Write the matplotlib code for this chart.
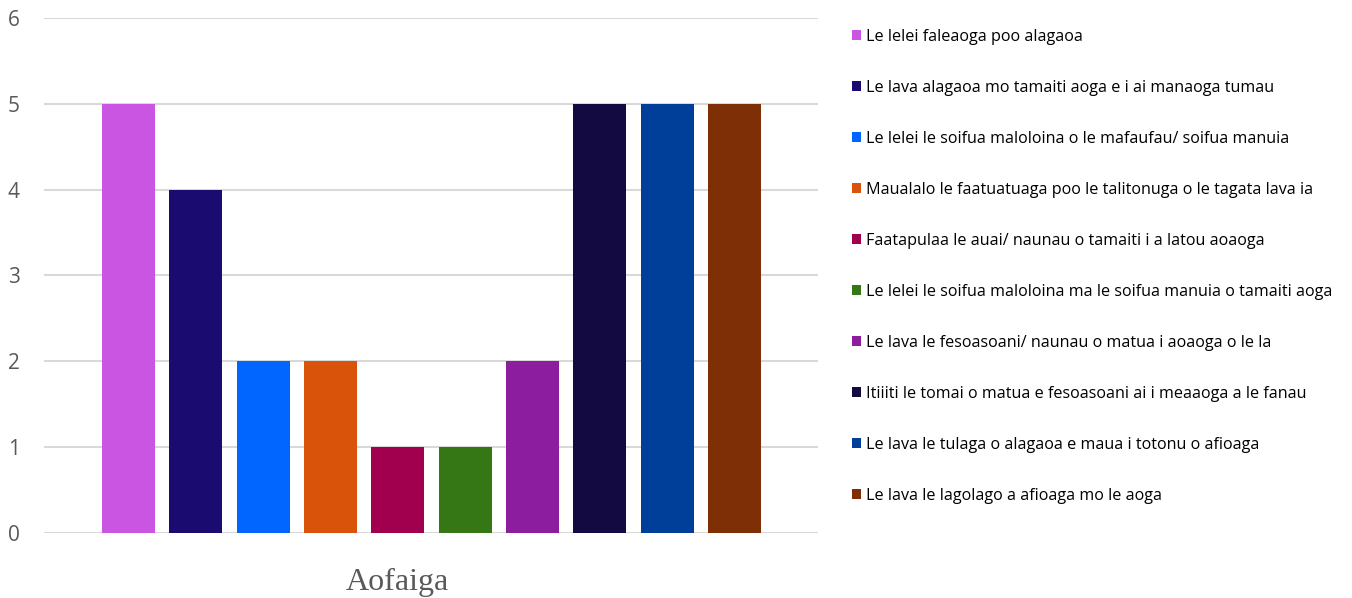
import matplotlib
matplotlib.use("Agg")
import matplotlib.pyplot as plt

# ================= Data =================
labels = [
    "Le lelei faleaoga poo alagaoa",
    "Le lava alagaoa mo tamaiti aoga e i ai manaoga tumau",
    "Le lelei le soifua maloloina o le mafaufau/ soifua manuia",
    "Maualalo le faatuatuaga poo le talitonuga o le tagata lava ia",
    "Faatapulaa le auai/ naunau o tamaiti i a latou aoaoga",
    "Le lelei le soifua maloloina ma le soifua manuia o tamaiti aoga",
    "Le lava le fesoasoani/ naunau o matua i aoaoga o le la",
    "Itiiiti le tomai o matua e fesoasoani ai i meaaoga a le fanau",
    "Le lava le tulaga o alagaoa e maua i totonu o afioaga",
    "Le lava le lagolago a afioaga mo le aoga",
]
values = [5, 4, 2, 2, 1, 1, 2, 5, 5, 5]
colors = ["#CB55E3", "#1A0B70", "#0066FF", "#D9540A", "#A0004D",
          "#357714", "#8B1D9E", "#120A40", "#003F99", "#7F2F06"]
yticks = [0, 1, 2, 3, 4, 5, 6]
category = "Aofaiga"
# ========================================

fig = plt.figure(figsize=(13.52, 5.98), dpi=100)
ax = fig.add_axes([0.0325, 0.109, 0.5725, 0.861])

for i, (v, c, lab) in enumerate(zip(values, colors, labels)):
    ax.bar(i, v, width=0.79, color=c, label=lab, zorder=3)

ax.set_xlim(-1.256, 10.24)
ax.set_ylim(0, 6)
ax.set_yticks(yticks)
ax.set_xticks([])
ax.grid(axis="y", color="#d9d9d9", linewidth=1.5, zorder=0)
for s in ax.spines.values():
    s.set_visible(False)
ax.tick_params(axis="y", length=0, pad=26, labelsize=15, labelcolor="#595959")
for t in ax.get_yticklabels():
    t.set_fontfamily("Open Sans")
    t.set_horizontalalignment("left")

# category label under the bars
fig.text(397 / 1352, 1 - 582 / 598, category, ha="center", va="center",
         fontsize=23, color="#595959", family="Liberation Serif")

ax.legend(loc="upper left", bbox_to_anchor=(852 / 1352, 1 - 29 / 598),
          bbox_transform=fig.transFigure, frameon=False,
          prop={"family": "Open Sans", "size": 11.6},
          handlelength=0.55, handleheight=0.55, handletextpad=0.3,
          labelspacing=2.17, borderaxespad=0, borderpad=0)

fig.savefig("out.png", dpi=100)
